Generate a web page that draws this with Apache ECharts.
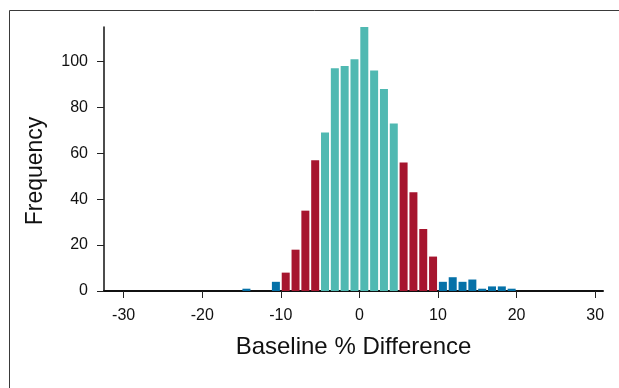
<!DOCTYPE html>
<html>
<head>
<meta charset="utf-8">
<style>
  html, body { margin: 0; padding: 0; background: #fff; }
  #chart { width: 619px; height: 388px; }
</style>
<script src="https://cdn.jsdelivr.net/npm/echarts@6/dist/echarts.min.js"></script>
</head>
<body>
<div id="chart"></div>
<script>
// bin centres (bin width 1.25 %)
const binCenters = [-14.375, -13.125, -11.875, -10.625, -9.375, -8.125, -6.875, -5.625,
  -4.375, -3.125, -1.875, -0.625, 0.625, 1.875, 3.125, 4.375,
  5.625, 6.875, 8.125, 9.375, 10.625, 11.875, 13.125, 14.375,
  15.625, 16.875, 18.125, 19.375];
const counts = [1, 0, 0, 4, 8, 18, 35, 57,
  69, 97, 98, 101, 115, 96, 88, 73,
  56, 43, 27, 15, 4, 6, 4, 5,
  1, 2, 2, 1];
const xTicks = [-30, -20, -10, 0, 10, 20, 30];
const yTicks = [0, 20, 40, 60, 80, 100];

const colorFor = (x) => {
  const a = Math.abs(x);
  if (a < 5) return '#50B9B2';
  if (a < 10) return '#A6152E';
  return '#0571A8';
};

const chart = echarts.init(document.getElementById('chart'));
const font = '"Liberation Sans", Arial, sans-serif';

chart.setOption({
  animation: false,
  grid: {left: 104, right: 16, top: 27, bottom: 97},
  graphic: [{
    type: 'rect',
    shape: {x: 9.5, y: 10.5, width: 800, height: 600},
    style: {fill: null, stroke: '#3a3a3a', lineWidth: 1},
    silent: true
  }],
  xAxis: {
    type: 'value',
    min: -32.5,
    max: 31,
    name: 'Baseline % Difference',
    nameLocation: 'middle',
    nameGap: 44,
    nameTextStyle: {fontFamily: font, fontSize: 24, color: '#111'},
    splitLine: {show: false},
    axisLine: {onZero: false, lineStyle: {color: '#111', width: 2}},
    axisTick: {length: 7, customValues: xTicks, lineStyle: {color: '#222', width: 1}},
    axisLabel: {customValues: xTicks, margin: 17, fontFamily: font, fontSize: 16, color: '#111'}
  },
  yAxis: {
    type: 'value',
    min: 0,
    max: 115,
    name: 'Frequency',
    nameLocation: 'middle',
    nameGap: 57,
    nameTextStyle: {fontFamily: font, fontSize: 23, color: '#111', padding: [0, 24, 0, 0]},
    splitLine: {show: false},
    axisLine: {show: true, onZero: false, lineStyle: {color: '#111', width: 1.5}},
    axisTick: {show: true, length: 7, customValues: yTicks, lineStyle: {color: '#222', width: 1}},
    axisLabel: {customValues: yTicks, margin: 16, fontFamily: font, fontSize: 16, color: '#111'}
  },
  series: [{
    type: 'bar',
    barWidth: 8,
    data: binCenters.map((x, i) => ({
      value: [x, counts[i]],
      itemStyle: {color: colorFor(x)}
    }))
  }]
});
</script>
</body>
</html>
